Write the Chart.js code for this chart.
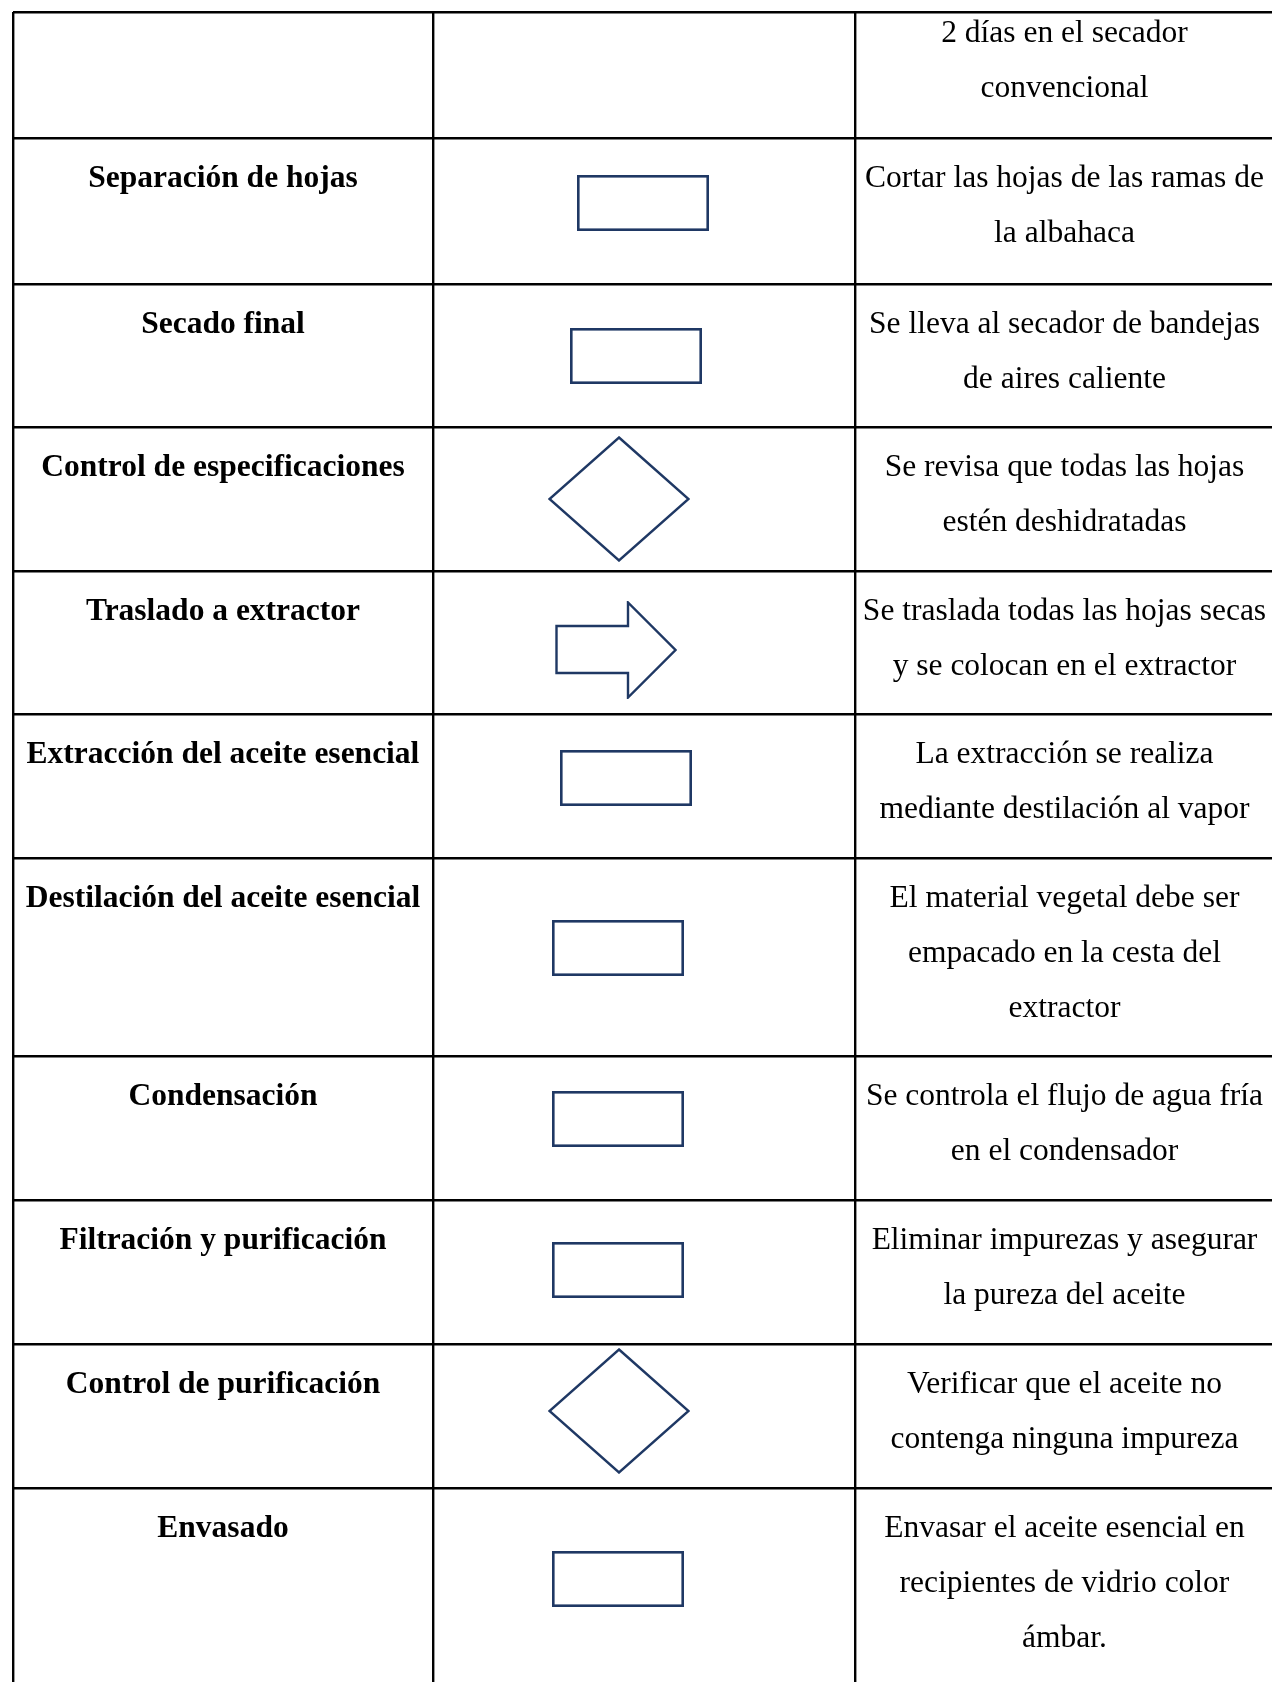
<!DOCTYPE html>
<html>
<head>
<meta charset="utf-8">
<script src="https://cdn.jsdelivr.net/npm/chart.js@4.4.1/dist/chart.umd.min.js"></script>
<style>
  html, body { margin: 0; padding: 0; background: #fff; overflow: hidden; }
  #wrap { position: relative; width: 1272px; height: 1682px; overflow: hidden; }
  #board { position: absolute; left: 0; top: 0; }
  .cell {
    position: absolute;
    font-family: "Liberation Serif", "Times New Roman", serif;
    font-size: 31.5px;
    line-height: 55px;
    text-align: center;
    white-space: nowrap;
    color: #000;
  }
  .step { font-weight: bold; }
</style>
</head>
<body>
<div id="wrap">
  <canvas id="board" width="1272" height="1682"></canvas>
  <div id="texts"></div>
</div>
<script>
// table rows (the first one continues from the previous page)
var steps = ['', 'Separación de hojas', 'Secado final', 'Control de especificaciones',
  'Traslado a extractor', 'Extracción del aceite esencial', 'Destilación del aceite esencial',
  'Condensación', 'Filtración y purificación', 'Control de purificación', 'Envasado'];

var descriptions = [
  ['2 días en el secador', 'convencional'],
  ['Cortar las hojas de las ramas de', 'la albahaca'],
  ['Se lleva al secador de bandejas', 'de aires caliente'],
  ['Se revisa que todas las hojas', 'estén deshidratadas'],
  ['Se traslada todas las hojas secas', 'y se colocan en el extractor'],
  ['La extracción se realiza', 'mediante destilación al vapor'],
  ['El material vegetal debe ser', 'empacado en la cesta del', 'extractor'],
  ['Se controla el flujo de agua fría', 'en el condensador'],
  ['Eliminar impurezas y asegurar', 'la pureza del aceite'],
  ['Verificar que el aceite no', 'contenga ninguna impureza'],
  ['Envasar el aceite esencial en', 'recipientes de vidrio color', 'ámbar.']
];

var symbols = [null, 'rect', 'rect', 'diamond', 'arrow', 'rect', 'rect', 'rect', 'rect', 'diamond', 'rect'];
var symbolX = [null, 643, 636, 619, 616, 626, 618, 618, 618, 619, 618];
var symbolY = [null, 203, 356, 499, 650, 778, 948, 1119, 1270, 1411, 1579];

// row and column boundaries, used as tick values
var rowEdges = [12, 138, 284, 427, 571, 714, 858, 1056, 1200, 1344, 1488];
var colEdges = [13, 433, 855];
var pageRight = 1272;

var navy = '#1f3864';

function makeSymbol(kind) {
    var c = document.createElement('canvas');
    var g;
    if (kind === 'rect') {
        c.width = 132; c.height = 56;
        g = c.getContext('2d');
        g.strokeStyle = navy; g.lineWidth = 2.6;
        g.strokeRect(1.3, 1.3, 129.4, 53.4);
    } else if (kind === 'diamond') {
        c.width = 142; c.height = 126;
        g = c.getContext('2d');
        g.strokeStyle = navy; g.lineWidth = 2.4;
        g.beginPath();
        g.moveTo(71, 1.5); g.lineTo(140.5, 63); g.lineTo(71, 124.5); g.lineTo(1.5, 63);
        g.closePath(); g.stroke();
    } else {
        c.width = 122; c.height = 98;
        g = c.getContext('2d');
        g.strokeStyle = navy; g.lineWidth = 2.4;
        g.beginPath();
        g.moveTo(1.5, 25); g.lineTo(73, 25); g.lineTo(73, 1.5); g.lineTo(120.5, 49);
        g.lineTo(73, 96.5); g.lineTo(73, 72); g.lineTo(1.5, 72);
        g.closePath(); g.stroke();
    }
    return c;
}

var points = [];
var styles = [];
symbols.forEach(function (s, i) {
    if (!s) return;
    points.push({ x: symbolX[i], y: symbolY[i] });
    styles.push(makeSymbol(s));
});

var ctx = document.getElementById('board').getContext('2d');
var board = new Chart(ctx, {
    type: 'scatter',
    data: {
        datasets: [{
            data: points,
            pointStyle: styles,
            pointRadius: 1,
            pointHoverRadius: 1,
            showLine: false
        }]
    },
    options: {
        responsive: false,
        animation: false,
        events: [],
        devicePixelRatio: 1,
        layout: { autoPadding: false, padding: { left: 13, top: 12, right: 0, bottom: 0 } },
        plugins: { legend: { display: false }, tooltip: { enabled: false } },
        scales: {
            x: {
                type: 'linear', min: 13, max: pageRight,
                afterBuildTicks: function (scale) {
                    scale.ticks = colEdges.map(function (v) { return { value: v }; });
                },
                grid: { color: '#000', lineWidth: 2.4, drawTicks: false },
                border: { display: false },
                ticks: { display: false }
            },
            y: {
                type: 'linear', reverse: true, min: 12, max: 1682,
                afterBuildTicks: function (scale) {
                    scale.ticks = rowEdges.map(function (v) { return { value: v }; });
                },
                grid: { color: '#000', lineWidth: 2.4, drawTicks: false },
                border: { display: false },
                ticks: { display: false }
            }
        }
    }
});

// place the texts in the cells given by the chart scales
var holder = document.getElementById('texts');
var xs = board.scales.x, ys = board.scales.y;
var colPx = colEdges.map(function (v) { return xs.getPixelForValue(v); }).concat([pageRight + 2]);

function addCell(col, row, lines, cls) {
    var top = ys.getPixelForValue(rowEdges[row]) + (row === 0 ? -8 : 11);
    var d = document.createElement('div');
    d.className = 'cell' + (cls ? ' ' + cls : '');
    d.style.left = (colPx[col] + 1) + 'px';
    d.style.width = (colPx[col + 1] - colPx[col] - 2) + 'px';
    d.style.top = top + 'px';
    lines.forEach(function (t, k) {
        if (k) d.appendChild(document.createElement('br'));
        d.appendChild(document.createTextNode(t));
    });
    holder.appendChild(d);
}

steps.forEach(function (s, i) {
    if (s) addCell(0, i, [s], 'step');
    addCell(2, i, descriptions[i]);
});
</script>
</body>
</html>
